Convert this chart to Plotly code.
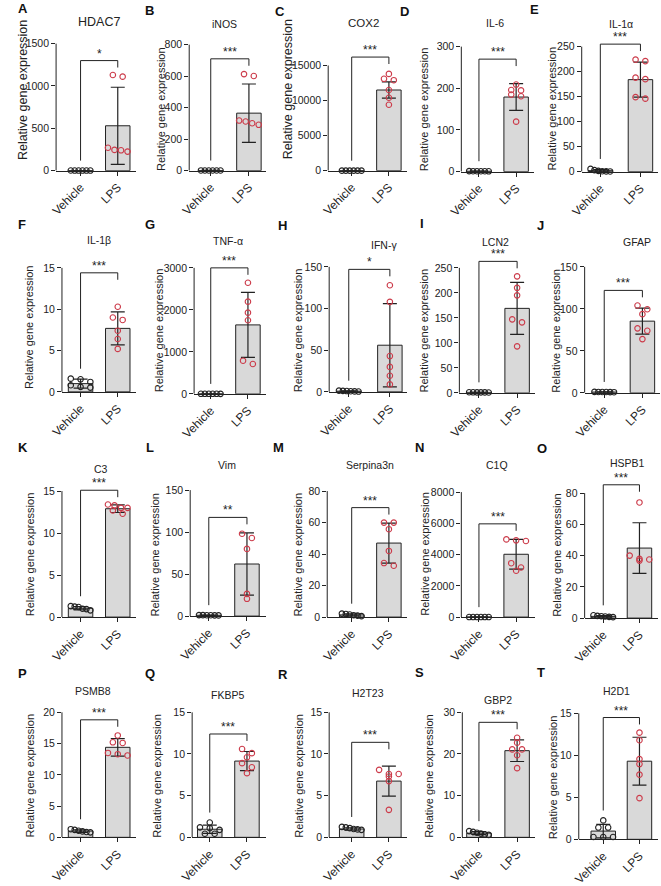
import plotly.graph_objects as go

W, H = 661, 886
FONT = "Liberation Sans, Arial, sans-serif"

# ---------------- data ----------------
letters = list("ABCDEFGHIJKLMNOPQRST")
genes = ["HDAC7", "iNOS", "COX2", "IL-6", "IL-1α",
         "IL-1β", "TNF-α", "IFN-γ", "LCN2", "GFAP",
         "C3", "Vim", "Serpina3n", "C1Q", "HSPB1",
         "PSMB8", "FKBP5", "H2T23", "GBP2", "H2D1"]
groups = ["Vehicle", "LPS"]
stars = ["*", "***", "***", "***", "***",
         "***", "***", "*", "***", "***",
         "***", "**", "***", "***", "***",
         "***", "***", "***", "***", "***"]
yticks = [
    [0, 500, 1000, 1500], [0, 200, 400, 600, 800], [0, 5000, 10000, 15000],
    [0, 100, 200, 300], [0, 50, 100, 150, 200, 250],
    [0, 5, 10, 15], [0, 1000, 2000, 3000], [0, 50, 100, 150],
    [0, 50, 100, 150, 200, 250], [0, 50, 100, 150],
    [0, 5, 10, 15], [0, 50, 100, 150], [0, 20, 40, 60, 80],
    [0, 2000, 4000, 6000, 8000], [0, 20, 40, 60, 80],
    [0, 5, 10, 15, 20], [0, 5, 10, 15], [0, 5, 10, 15], [0, 10, 20, 30], [0, 5, 10, 15],
]
veh_points = [
    [1.2, 1.1, 1.0, 1.0, 0.9, 0.8], [1.2, 1.1, 1.0, 1.0, 0.9, 0.8],
    [1.2, 1.1, 1.0, 1.0, 0.9, 0.8], [1.2, 1.1, 1.0, 1.0, 0.9, 0.8],
    [5.5, 3.0, 1.5, 0.8, 0.5, 0.4],
    [1.6, 1.52, 1.2, 0.8, 0.6, 0.52], [1.2, 1.1, 1.0, 1.0, 0.9, 0.8],
    [1.5, 1.2, 1.0, 0.8, 0.6, 0.4], [1.2, 1.1, 1.0, 1.0, 0.9, 0.8],
    [1.2, 1.1, 1.0, 1.0, 0.9, 0.8],
    [1.3, 1.25, 1.2, 1.0, 0.95, 0.8], [1.2, 1.1, 1.0, 1.0, 0.9, 0.8],
    [2.2, 2.0, 1.6, 1.2, 0.9, 0.6], [1.2, 1.1, 1.0, 1.0, 0.9, 0.8],
    [1.8, 1.4, 1.2, 1.0, 0.8, 0.6],
    [1.3, 1.2, 1.05, 0.95, 0.85, 0.8], [1.78, 1.2, 1.1, 0.9, 0.43, 0.43],
    [1.25, 1.2, 1.1, 1.0, 0.95, 0.9], [1.5, 1.3, 1.1, 0.9, 0.7, 0.6],
    [2.25, 1.4, 1.4, 0.28, 0.28, 0.28],
]
veh_mean = [1, 1, 1, 1, 1.9, 1.0, 1, 0.9, 1, 1, 1.05, 1, 1.4, 1, 1.1,
            1.0, 0.97, 1.0, 1.0, 0.98]
veh_sd = [0.15, 0.15, 0.15, 0.15, 2.0, 0.55, 0.15, 0.4, 0.15, 0.15, 0.2, 0.15, 0.6, 0.15, 0.45,
          0.2, 0.5, 0.15, 0.35, 0.8]
lps_points = [
    [1130, 1110, 270, 245, 240, 225],
    [613, 601, 318, 312, 301, 291],
    [13800, 13100, 12900, 11500, 10400, 9400],
    [209, 196, 195, 185, 181, 120],
    [224, 221, 188, 185, 149, 146],
    [10.3, 9.0, 8.7, 7.4, 6.4, 5.2],
    [2645, 2195, 1934, 1753, 790, 711],
    [128, 108, 43, 30, 19.4, 9],
    [233, 210, 195, 147, 141, 93],
    [104, 99.6, 93.7, 76.8, 74, 64],
    [13.4, 13.3, 13.0, 13.0, 12.7, 12.3],
    [98, 93, 80, 26.5, 20.6],
    [60, 60, 55.8, 42, 34.3, 32.6],
    [4973, 4910, 4867, 3449, 3174, 2963],
    [74, 40, 37.9, 37.5, 36.8],
    [16.3, 15.2, 15.1, 13.5, 13.3, 13.1],
    [10.6, 10.1, 9.6, 8.9, 8.4, 7.7],
    [8.1, 7.6, 7.6, 7.3, 6.75, 3.3],
    [23.9, 22.7, 21.1, 21.1, 19.7, 16.6],
    [12.7, 11.8, 9.55, 8.96, 7.7, 4.9],
]
lps_mean = [530, 365, 11500, 179, 184, 7.68, 1642, 56, 169, 85.4,
            12.9, 62, 47, 4020, 44.8, 14.4, 9.15, 6.75, 20.8, 9.3]
lps_sd = [455, 185, 1150, 32, 35, 2.0, 775, 50, 52, 15.5,
          0.45, 37, 12.7, 950, 16.2, 1.4, 1.15, 1.8, 2.6, 2.85]
bracket_level = [1300, 710, 16200, 270, 255, 14.4, 3000, 147, 263, 122,
                 15.1, 117.5, 69.5, 5967, 85.3, 18.8, 12.4, 11.4, 27.6, 14.5]

# ---------------- layout geometry (pixels) ----------------
# axis_x, vehicle_x, lps_x, end_x, y_zero, y_top, ylabel_x, ylabel_y, ylabel_fs,
# title_x, title_y, title_fs, letter_x, letter_y
geom = [
    (43, 68, 106, 125, 172, 44, 9, 91, 12.5, 87, 22, 12.5, 2, 9),
    (179, 201, 240, 257, 172, 45, 150, 110, 11, 215, 24, 10.5, 132, 11),
    (321, 345, 383, 401, 172, 66, 280, 90, 12.5, 357, 23, 11.5, 265, 12),
    (457, 475, 513, 531, 173, 47, 419, 110, 11, 491, 23, 10.5, 392, 12),
    (580, 599, 640, 658, 173, 47, 550, 109, 11, 620, 24, 10.5, 525, 10),
    (49, 68, 106, 125, 395, 270, 16, 330, 11, 87, 242, 10.5, 2, 226),
    (184, 201, 239, 257, 397, 270, 149, 333, 11, 219, 243, 10.5, 132, 226),
    (322, 342, 384, 401, 395, 269, 291, 333, 11, 378, 247, 10.5, 268, 227),
    (455, 475, 514, 532, 396, 270, 419, 333, 11, 492, 244, 10.5, 413, 225),
    (583, 603, 642, 660, 396, 269, 554, 333, 11, 636, 244, 10.5, 532, 227),
    (49, 68, 106, 125, 622, 495, 16, 559, 11, 89, 473, 10.5, 2, 451),
    (180, 199, 238, 257, 621, 494, 144, 559, 11, 218, 469, 10.5, 133, 451),
    (320, 345, 383, 402, 622, 495, 290, 559, 11, 364, 469, 10.5, 263, 451),
    (457, 475, 513, 532, 622, 496, 419, 558, 11, 493, 469, 10.5, 408, 451),
    (583, 602, 639, 658, 623, 497, 554, 559, 11, 627, 467, 10.5, 532, 452),
    (49, 68, 106, 125, 844, 718, 16, 782, 11, 81, 697, 10.5, 2, 679),
    (182, 200, 238, 257, 844, 718, 146, 782, 11, 218, 701, 10.5, 132, 679),
    (322, 345, 383, 402, 844, 718, 291, 782, 11, 362, 699, 10.5, 268, 680),
    (458, 475, 514, 532, 844, 718, 424, 782, 11, 494, 706, 10.5, 408, 678),
    (577, 602, 639, 658, 846, 719, 550, 783, 11, 616, 696, 10.5, 532, 678),
]

AX = "#222222"
RED = "#cc3b4a"
BAR_FILL = "#d9d9d9"
BAR_W_PX = 25
EXT_PX = 30
MARK = 5.5


def swarm(values, ppu, unit_px):
    """Prism-like column scatter: rows of points closer than a marker are spread."""
    order = sorted(range(len(values)), key=lambda k: -values[k])
    offs = [0.0] * len(values)
    rows, cur = [], []
    for k in order:
        if cur and (values[cur[0]] - values[k]) * ppu >= 4.5:
            rows.append(cur)
            cur = []
        cur.append(k)
    if cur:
        rows.append(cur)
    for row in rows:
        n = len(row)
        if n == 1:
            continue
        sp = min(10.0, 20.0 / (n - 1))
        for j, k in enumerate(row):
            offs[k] = (j - (n - 1) / 2) * sp / unit_px
    return offs


fig = go.Figure()
layout = dict(width=W, height=H, margin=dict(l=0, r=0, t=0, b=0),
              paper_bgcolor="white", plot_bgcolor="rgba(0,0,0,0)",
              showlegend=False, font=dict(family=FONT, color=AX, size=10.5))
shapes, annotations = [], []

for i in range(20):
    ax_x, vx, lx, ex, y0, yt, lbx, lby, lbfs, tx, ty, tfs, ltx, lty = geom[i]
    n = "" if i == 0 else str(i + 1)
    xa, ya = "x" + n, "y" + n
    unit = lx - vx
    top = yticks[i][-1]
    ppu = (y0 - yt) / top
    yr_top = top + EXT_PX / ppu
    layout["xaxis" + n] = dict(
        domain=[ax_x / W, ex / W], range=[(ax_x - vx) / unit, (ex - vx) / unit],
        anchor=ya, tickvals=[0, 1], ticktext=groups, tickangle=-45,
        ticks="outside", ticklen=4, tickwidth=1, tickcolor=AX,
        showline=True, linecolor=AX, linewidth=1, showgrid=False, zeroline=False,
        tickfont=dict(size=12, color=AX, family=FONT))
    layout["yaxis" + n] = dict(
        domain=[1 - y0 / H, 1 - (yt - EXT_PX) / H], range=[0, yr_top],
        anchor=xa, tickvals=yticks[i], ticktext=[str(v) for v in yticks[i]],
        ticks="outside", ticklen=4, tickwidth=1,
        tickcolor=AX, showline=False, showgrid=False, zeroline=False,
        tickfont=dict(size=10.5, color=AX, family=FONT))

    # y axis line only up to the top tick
    shapes.append(dict(type="line", xref=xa + " domain", yref=ya, x0=0, x1=0,
                       y0=0, y1=top, line=dict(color=AX, width=1)))

    fig.add_trace(go.Bar(
        x=[0, 1], y=[veh_mean[i], lps_mean[i]], width=BAR_W_PX / unit,
        marker=dict(color=BAR_FILL, line=dict(color=AX, width=1)),
        error_y=dict(type="data", array=[veh_sd[i], lps_sd[i]], visible=True,
                     color=AX, thickness=1.2, width=7),
        xaxis=xa, yaxis=ya, hoverinfo="skip"))

    for gi, (pts, col) in enumerate([(veh_points[i], AX), (lps_points[i], RED)]):
        offs = swarm(pts, ppu, unit)
        fig.add_trace(go.Scatter(
            x=[gi + o for o in offs], y=pts, mode="markers", cliponaxis=False,
            marker=dict(symbol="circle-open", size=MARK, color=col,
                        line=dict(width=1.1, color=col)),
            xaxis=xa, yaxis=ya, hoverinfo="skip"))

    # significance bracket
    b = bracket_level[i]
    vtop = max(max(veh_points[i]), veh_mean[i] + veh_sd[i])
    left_bottom = vtop + 10 / ppu
    right_bottom = b - 7 / ppu
    shapes.append(dict(type="path", xref=xa, yref=ya,
                       path=f"M 0,{left_bottom} L 0,{b} L 1,{b} L 1,{right_bottom}",
                       line=dict(color=AX, width=1)))
    annotations.append(dict(x=0.5, y=b, xref=xa, yref=ya, text=stars[i],
                            showarrow=False, yanchor="bottom", yshift=-2,
                            font=dict(size=12, color=AX, family=FONT)))
    # texts
    annotations.append(dict(x=tx / W, y=1 - ty / H, xref="paper", yref="paper",
                            text=genes[i], showarrow=False, xanchor="center", yanchor="middle",
                            font=dict(size=tfs, color=AX, family=FONT)))
    annotations.append(dict(x=lbx / W, y=1 - lby / H, xref="paper", yref="paper",
                            text="Relative gene expression", textangle=-90, showarrow=False,
                            xanchor="center", yanchor="middle",
                            font=dict(size=lbfs, color=AX, family=FONT)))
    annotations.append(dict(x=ltx / W, y=1 - lty / H, xref="paper", yref="paper",
                            text="<b>" + letters[i] + "</b>", showarrow=False,
                            xanchor="left", yanchor="middle",
                            font=dict(size=13, color="#111111", family=FONT)))

layout["shapes"] = shapes
layout["annotations"] = annotations
fig.update_layout(**layout)
fig.write_html("out.html")
